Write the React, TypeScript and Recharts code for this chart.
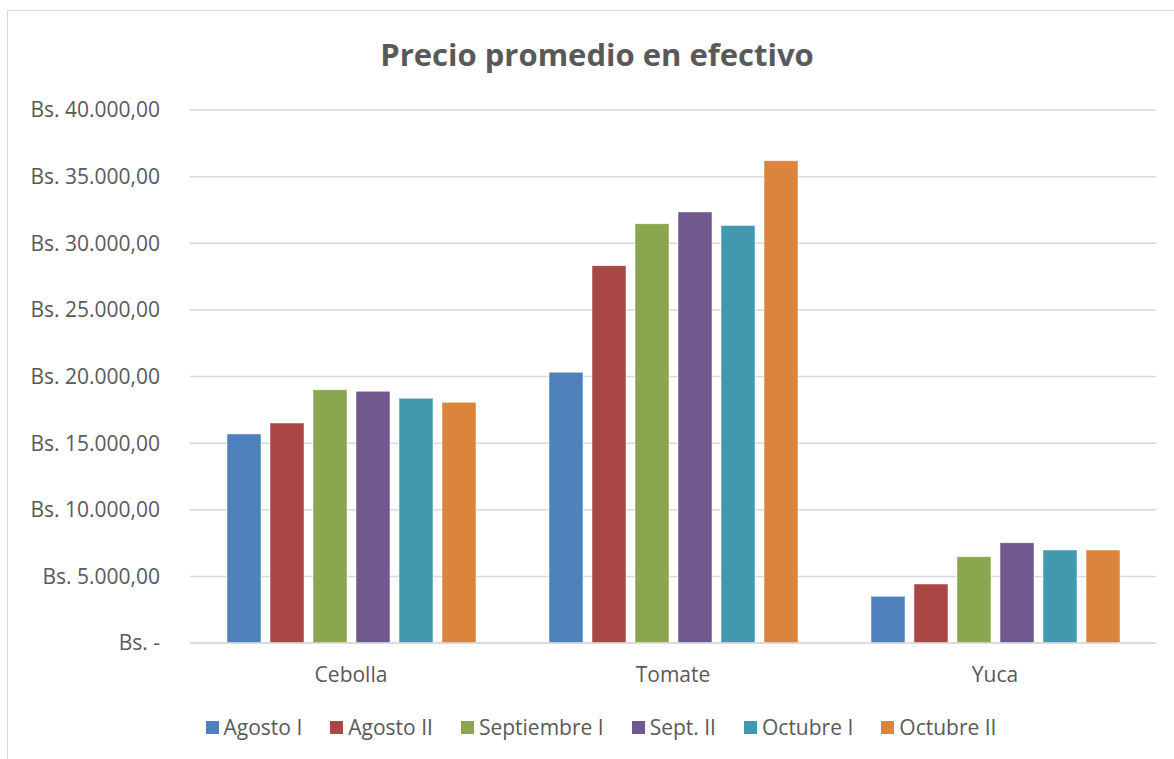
import { BarChart, Bar, XAxis, YAxis, CartesianGrid } from "recharts";

const categories = ["Cebolla", "Tomate", "Yuca"];

const agostoI = [15690, 20320, 3500];
const agostoII = [16510, 28320, 4430];
const septiembreI = [19010, 31470, 6480];
const septII = [18890, 32350, 7530];
const octubreI = [18360, 31340, 6980];
const octubreII = [18060, 36200, 6980];

const yTicks = [0, 5000, 10000, 15000, 20000, 25000, 30000, 35000, 40000];

const SERIES = [
  { key: "agostoI", label: "Agosto I", color: "#4f81bd", values: agostoI },
  { key: "agostoII", label: "Agosto II", color: "#aa4644", values: agostoII },
  { key: "septiembreI", label: "Septiembre I", color: "#8aa64f", values: septiembreI },
  { key: "septII", label: "Sept. II", color: "#71588f", values: septII },
  { key: "octubreI", label: "Octubre I", color: "#4198af", values: octubreI },
  { key: "octubreII", label: "Octubre II", color: "#db843d", values: octubreII },
];

const data = categories.map((name, i) => {
  const row: Record<string, string | number> = { name };
  SERIES.forEach((s) => {
    row[s.key] = s.values[i];
  });
  return row;
});

const FONT = "'Open Sans', sans-serif";
const TEXT = "#595959";

function formatBs(v: number) {
  if (v === 0) return "Bs. -";
  const s = Math.round(v).toString().replace(/\B(?=(\d{3})+(?!\d))/g, ".");
  return `Bs. ${s},00`;
}

export default function App() {
  return (
    <div style={{ position: "absolute", left: 0, top: 0, width: 1174, height: 759, background: "#fff", overflow: "hidden" }}>
      <div
        style={{
          position: "absolute",
          left: 7,
          top: 10,
          width: 1180,
          height: 760,
          border: "1.5px solid #d9d9d9",
        }}
      />
      <div
        style={{
          position: "absolute",
          top: 33,
          left: 10,
          width: 1174,
          textAlign: "center",
          fontFamily: FONT,
          fontWeight: "bold",
          fontSize: 31,
          color: TEXT,
        }}
      >
        Precio promedio en efectivo
      </div>
      <div style={{ position: "absolute", left: 0, top: 0 }}>
        <BarChart
          width={1174}
          height={759}
          data={data}
          margin={{ top: 110, right: 18, bottom: 86, left: 0 }}
          barGap={9}
          barSize={34}
        >
          <CartesianGrid vertical={false} stroke="#d9d9d9" strokeWidth={1.5} />
          <XAxis
            dataKey="name"
            tickLine={false}
            axisLine={{ stroke: "#d9d9d9", strokeWidth: 1.5 }}
            tickMargin={18}
            tick={{ fontFamily: FONT, fontSize: 21, fill: TEXT }}
          />
          <YAxis
            width={190}
            domain={[0, 40000]}
            ticks={yTicks}
            tickFormatter={formatBs}
            axisLine={false}
            tickLine={false}
            tickSize={0}
            tickMargin={30}
            tick={{ fontFamily: FONT, fontSize: 21, fill: TEXT }}
          />
          {SERIES.map((s) => (
            <Bar
              key={s.key}
              dataKey={s.key}
              name={s.label}
              fill={s.color}
              stroke="#ffffff"
              strokeOpacity={0.5}
              isAnimationActive={false}
            />
          ))}
        </BarChart>
      </div>
      <div
        style={{
          position: "absolute",
          left: 0,
          top: 713,
          width: 1174,
          display: "flex",
          justifyContent: "center",
          gap: 28,
          fontFamily: FONT,
          fontSize: 21,
          color: TEXT,
          paddingLeft: 28,
          boxSizing: "border-box",
        }}
      >
        {SERIES.map((s) => (
          <span key={s.key} style={{ display: "flex", alignItems: "center", gap: 5 }}>
            <span style={{ width: 13, height: 13, background: s.color, display: "inline-block" }} />
            {s.label}
          </span>
        ))}
      </div>
    </div>
  );
}
